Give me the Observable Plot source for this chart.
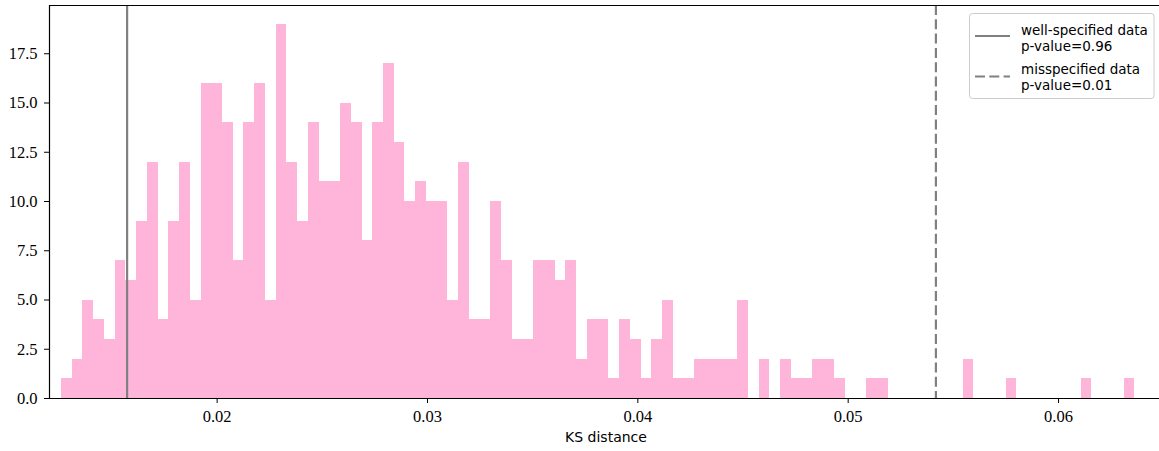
<!DOCTYPE html>
<html>
<head>
<meta charset="utf-8">
<script src="https://cdn.jsdelivr.net/npm/d3@7"></script>
<script src="https://cdn.jsdelivr.net/npm/@observablehq/plot@0.6"></script>
<style>
  html, body { margin: 0; padding: 0; background: #fff; }
  #chart { position: relative; width: 1159px; height: 451px; }
</style>
</head>
<body>
<div id="chart"></div>
<script>
// Histogram of KS distances: 100 equal-width bins between binMin and binMax
const binMin = 0.0126;
const binMax = 0.06363;
const counts = [
  1, 2, 5, 4, 3, 7, 6, 9, 12, 4,
  9, 12, 5, 16, 16, 14, 7, 14, 16, 5,
  19, 12, 9, 14, 11, 11, 15, 14, 8, 14,
  17, 13, 10, 11, 10, 10, 5, 12, 4, 4,
  10, 7, 3, 3, 7, 7, 6, 7, 2, 4,
  4, 1, 4, 3, 1, 3, 5, 1, 1, 2,
  2, 2, 2, 5, 0, 2, 0, 2, 1, 1,
  2, 2, 1, 0, 0, 1, 1, 0, 0, 0,
  0, 0, 0, 0, 2, 0, 0, 0, 1, 0,
  0, 0, 0, 0, 0, 1, 0, 0, 0, 1
];
// observed KS distances (vertical reference lines)
const wellSpecified = [0.01572];
const misspecified = [0.05417];
const legendLabels = [["well-specified data", "p-value=0.96"], ["misspecified data", "p-value=0.01"]];
const xTicks = [0.02, 0.03, 0.04, 0.05, 0.06];
const yTicks = [0, 2.5, 5, 7.5, 10, 12.5, 15, 17.5];
const xDomain = [0.01203, 0.0648];
const yDomain = [0, 19.95];

const binW = (binMax - binMin) / counts.length;
const bins = counts.map((c, i) => ({x1: binMin + i * binW, x2: binMin + (i + 1) * binW, count: c}))
  .filter(d => d.count > 0);

const serif = "Liberation Serif";
const plot = Plot.plot({
  width: 1159,
  height: 451,
  marginLeft: 49,
  marginRight: 0,
  marginTop: 5,
  marginBottom: 53,
  style: {background: "transparent", overflow: "visible"},
  x: {domain: xDomain},
  y: {domain: yDomain},
  marks: [
    Plot.rectY(bins, {x1: "x1", x2: "x2", y: "count", fill: "hotpink", fillOpacity: 0.5, inset: 0, shapeRendering: "crispEdges"}),
    Plot.ruleX(wellSpecified, {stroke: "gray", strokeWidth: 2.2}),
    Plot.ruleX(misspecified, {stroke: "gray", strokeWidth: 2.2, strokeDasharray: "10,4.3"}),
    Plot.ruleX([xDomain[0]], {stroke: "#000", strokeWidth: 1.2}),
    Plot.ruleY([yDomain[0]], {stroke: "#000", strokeWidth: 1.2}),
    Plot.ruleY([yDomain[1]], {stroke: "#000", strokeWidth: 1.2}),
    Plot.axisX({ticks: xTicks, tickFormat: d3.format(".2f"), tickSize: 5, tickPadding: 7, label: null,
      fontFamily: serif, fontSize: 16.5, fill: "#000", stroke: "#000"}),
    Plot.axisY({ticks: yTicks, tickFormat: d3.format(".1f"), tickSize: 5, tickPadding: 7, label: null,
      fontFamily: serif, fontSize: 16.5, fill: "#000", stroke: "#000"})
  ]
});
document.getElementById("chart").appendChild(plot);

const svg = d3.select(plot);
svg.selectAll("g[aria-label$='tick label'] text").attr("font-family", serif);

// x-axis label
svg.append("text")
  .attr("x", 606).attr("y", 442)
  .attr("text-anchor", "middle")
  .attr("font-family", "DejaVu Sans")
  .attr("font-size", 14)
  .attr("fill", "#000")
  .text("KS distance");

// legend
const lg = svg.append("g").attr("text-anchor", "start");
lg.append("rect")
  .attr("x", 969.5).attr("y", 13.5).attr("width", 184.5).attr("height", 85)
  .attr("rx", 3).attr("fill", "#fff").attr("fill-opacity", 0.8)
  .attr("stroke", "#ccc").attr("stroke-width", 1);
const sampleY = [36, 76.5];
const dashes = [null, "10,4.3"];
const baselines = [[35, 50.5], [74, 89.5]];
legendLabels.forEach((lines, i) => {
  lg.append("line")
    .attr("x1", 975).attr("x2", 1010).attr("y1", sampleY[i]).attr("y2", sampleY[i])
    .attr("stroke", "gray").attr("stroke-width", 2.2)
    .attr("stroke-dasharray", dashes[i]);
  lines.forEach((t, j) => {
    lg.append("text")
      .attr("x", 1021).attr("y", baselines[i][j])
      .attr("text-anchor", "start")
      .attr("font-family", "DejaVu Sans")
      .attr("font-size", 13.5)
      .attr("fill", "#000")
      .text(t);
  });
});
</script>
</body>
</html>
